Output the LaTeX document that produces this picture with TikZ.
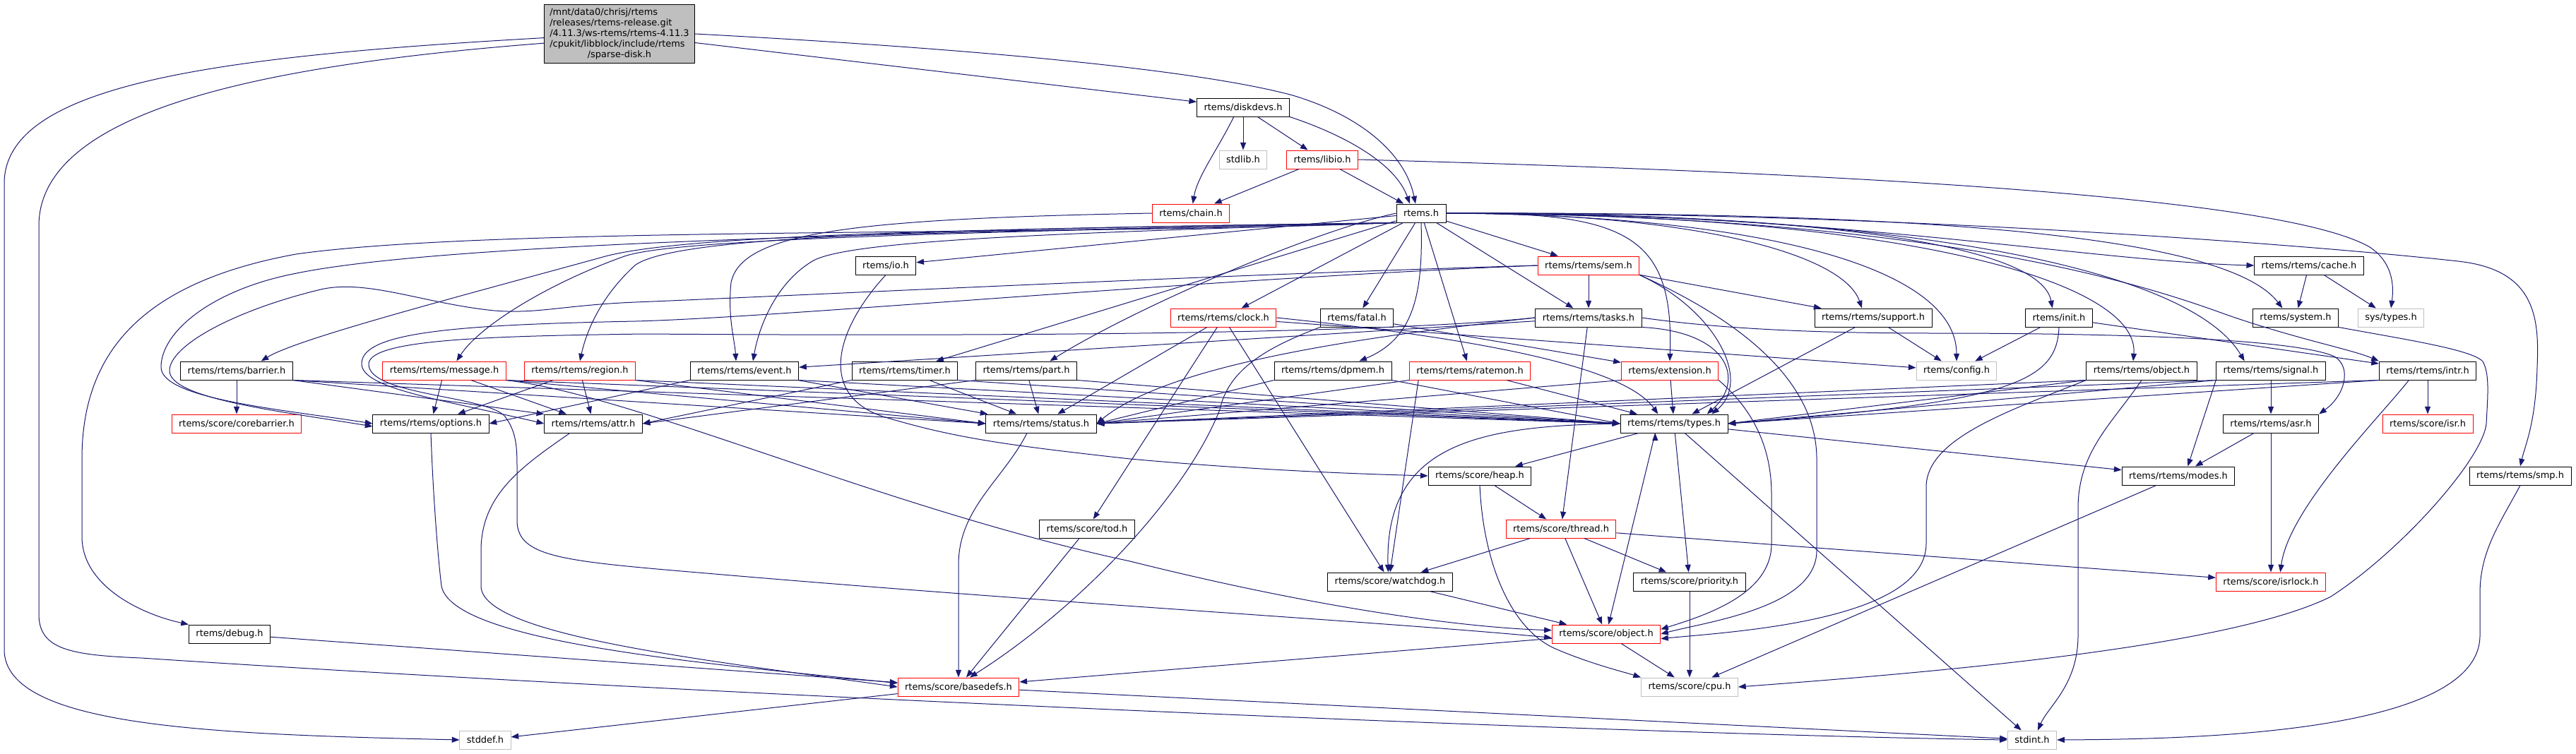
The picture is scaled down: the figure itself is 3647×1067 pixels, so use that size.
\documentclass[tikz,border=0pt]{standalone}
\usepackage{fontspec}
\setmainfont{DejaVu Sans}
\usepackage{tikz}
\usetikzlibrary{arrows.meta}
\definecolor{edgeblue}{HTML}{191970}
\definecolor{sysgray}{HTML}{BFBFBF}
\definecolor{mainfill}{HTML}{BFBFBF}
\definecolor{trunc}{HTML}{FF0000}
\newcommand{\hdrfont}{\fontsize{9.7pt}{11.25pt}\selectfont}

\begin{document}
\begin{tikzpicture}[x=0.75pt, y=-0.75pt]
    \tikzstyle{hdr}=[draw=black, rectangle, line width=0.75pt, minimum height=19.5pt, inner xsep=7.5pt, inner ysep=0pt, font=\hdrfont];
    \tikzstyle{hdrred}=[hdr, draw=trunc];
    \tikzstyle{hdrsys}=[hdr, draw=sysgray];
    \tikzstyle{mainbox}=[draw=black, fill=mainfill, rectangle, line width=0.75pt, inner xsep=6pt, inner ysep=3pt, font=\hdrfont];
    \tikzstyle{dep}=[draw=edgeblue, color=edgeblue, line width=0.75pt, -{Triangle[length=8pt,width=6pt]}];

    \fill[white] (0,0) rectangle (3647,1067);
    \useasboundingbox (0,0) rectangle (3647,1067);

    \node[mainbox] (main) at (877,48) {\begin{tabular}{@{}l@{}}/mnt/data0/chrisj/rtems\\/releases/rtems-release.git\\/4.11.3/ws-rtems/rtems-4.11.3\\/cpukit/libblock/include/rtems\\\multicolumn{1}{@{}c@{}}{/sparse-disk.h}\end{tabular}};
    \node[hdr] (diskdevs) at (1760,152) {rtems/diskdevs.h};
    \node[hdrsys] (stdlib) at (1760,226) {stdlib.h};
    \node[hdrred] (libio) at (1872,226) {rtems/libio.h};
    \node[hdrred] (chain) at (1686,302) {rtems/chain.h};
    \node[hdr] (rtemsh) at (2012,302) {rtems.h};
    \node[hdr] (io) at (1254,376) {rtems/io.h};
    \node[hdrred] (sem) at (2249,376) {rtems/rtems/sem.h};
    \node[hdr] (cache) at (3269,376) {rtems/rtems/cache.h};
    \node[hdrred] (clock) at (1732,450) {rtems/rtems/clock.h};
    \node[hdr] (fatal) at (1921,450) {rtems/fatal.h};
    \node[hdr] (tasks) at (2249,450) {rtems/rtems/tasks.h};
    \node[hdr] (support) at (2652,450) {rtems/rtems/support.h};
    \node[hdr] (init) at (2915,450) {rtems/init.h};
    \node[hdr] (system) at (3250,450) {rtems/system.h};
    \node[hdrsys] (systypes) at (3385,450) {sys/types.h};
    \node[hdr] (barrier) at (335,525) {rtems/rtems/barrier.h};
    \node[hdrred] (message) at (629,525) {rtems/rtems/message.h};
    \node[hdrred] (region) at (821,525) {rtems/rtems/region.h};
    \node[hdr] (event) at (1054,525) {rtems/rtems/event.h};
    \node[hdr] (timer) at (1281,525) {rtems/rtems/timer.h};
    \node[hdr] (part) at (1453,525) {rtems/rtems/part.h};
    \node[hdr] (dpmem) at (1887,525) {rtems/rtems/dpmem.h};
    \node[hdrred] (ratemon) at (2081,525) {rtems/rtems/ratemon.h};
    \node[hdrred] (extension) at (2364,525) {rtems/extension.h};
    \node[hdrsys] (config) at (2770,525) {rtems/config.h};
    \node[hdr] (robject) at (3032,525) {rtems/rtems/object.h};
    \node[hdr] (signal) at (3215,525) {rtems/rtems/signal.h};
    \node[hdr] (intr) at (3437,525) {rtems/rtems/intr.h};
    \node[hdrred] (corebarrier) at (335,600) {rtems/score/corebarrier.h};
    \node[hdr] (options) at (610,600) {rtems/rtems/options.h};
    \node[hdr] (attr) at (840,600) {rtems/rtems/attr.h};
    \node[hdr] (status) at (1474,600) {rtems/rtems/status.h};
    \node[hdr] (types) at (2370,600) {rtems/rtems/types.h};
    \node[hdr] (asr) at (3215,600) {rtems/rtems/asr.h};
    \node[hdrred] (isr) at (3437,600) {rtems/score/isr.h};
    \node[hdr] (heap) at (2095,674) {rtems/score/heap.h};
    \node[hdr] (modes) at (3084,674) {rtems/rtems/modes.h};
    \node[hdr] (smp) at (3568,674) {rtems/rtems/smp.h};
    \node[hdr] (tod) at (1539,749) {rtems/score/tod.h};
    \node[hdrred] (thread) at (2210,749) {rtems/score/thread.h};
    \node[hdr] (watchdog) at (1968,824) {rtems/score/watchdog.h};
    \node[hdr] (priority) at (2392,824) {rtems/score/priority.h};
    \node[hdrred] (isrlock) at (3215,824) {rtems/score/isrlock.h};
    \node[hdr] (debug) at (325,898) {rtems/debug.h};
    \node[hdrred] (sobject) at (2274,898) {rtems/score/object.h};
    \node[hdrred] (basedefs) at (1357,973) {rtems/score/basedefs.h};
    \node[hdrsys] (cpu) at (2392,973) {rtems/score/cpu.h};
    \node[hdrsys] (stddef) at (687,1048) {stddef.h};
    \node[hdrsys] (stdint) at (2877,1048) {stdint.h};

    \path[dep]
    (main) edge (diskdevs)
    (diskdevs) edge (stdlib)
    (diskdevs) edge (libio)
    (libio) edge (chain)
    (libio) edge (rtemsh)
    (rtemsh) edge (io)
    (rtemsh) edge (timer)
    (rtemsh) edge (clock)
    (rtemsh) edge (fatal)
    (rtemsh) edge (ratemon)
    (rtemsh) edge (sem)
    (rtemsh) edge (tasks)
    (sem) edge (tasks)
    (sem) edge (support)
    (cache) edge (system)
    (cache) edge (systypes)
    (clock) edge (config)
    (clock) edge (status)
    (clock) edge (tod)
    (clock) edge (watchdog)
    (fatal) edge (extension)
    (tasks) edge (event)
    (tasks) edge (thread)
    (support) edge (config)
    (support) edge (types)
    (init) edge (config)
    (init) edge (intr)
    (barrier) edge (corebarrier)
    (barrier.south east) edge (attr.north west)
    (barrier.south east) edge (status.west)
    (barrier.south east) edge (types.west)
    (message) edge (options)
    (message) edge (attr)
    (message.south east) edge (status.west)
    (message.south east) edge (types.west)
    (region) edge (options)
    (region) edge (attr)
    (region.south east) edge (status.west)
    (region.south east) edge (types.west)
    (event.south west) edge (options.east)
    (event) edge (status)
    (event.south east) edge (types.west)
    (timer.south west) edge (attr.east)
    (timer) edge (status)
    (timer.south east) edge (types.west)
    (part.south west) edge (attr.east)
    (part) edge (status)
    (part.south east) edge (types.west)
    (dpmem.south west) edge (status.east)
    (dpmem.south east) edge (types.west)
    (ratemon.south west) edge (status.east)
    (ratemon) edge (types)
    ([xshift=10pt]ratemon.south west) edge (watchdog.north)
    (extension) edge (types)
    (extension.south west) edge (status.east)
    (robject.south west) edge (status.east)
    (robject.south west) edge (types.east)
    (signal) edge (asr)
    (signal.south west) edge ([xshift=10pt]modes.north)
    (signal.south west) edge (status.east)
    (signal.south west) edge (types.east)
    (intr) edge (isr)
    (intr.south west) edge (status.east)
    (intr.south west) edge (types.east)
    (types) edge (heap)
    ([xshift=-20pt]types.south) edge (sobject)
    (types) edge (priority)
    (types) edge (stdint)
    (types) edge (modes)
    (asr) edge (modes)
    (asr) edge (isrlock)
    (heap) edge (thread)
    (modes) edge (cpu)
    (tod) edge (basedefs)
    (thread) edge (watchdog)
    (thread) edge (priority)
    (thread) edge (sobject)
    (thread) edge (isrlock)
    (watchdog) edge (sobject)
    (priority) edge (cpu)
    (sobject) edge (cpu)
    (sobject) edge (basedefs)
    (debug) edge (basedefs)
    (basedefs) edge (stddef)
    (basedefs) edge (stdint);

    \draw[dep] (main.east) .. controls (1400,70) and (1700,100) .. (1830,135) .. controls (1930,165) and (1990,220) .. ([xshift=-6pt]rtemsh.north);
    \draw[dep] (main.183) .. controls (300,80) and (6,120) .. (6,260) -- (6,920) .. controls (6,1030) and (300,1040) .. (stddef.west);
    \draw[dep] (main.187) .. controls (400,90) and (55,150) .. (55,320) -- (55,870) .. controls (55,920) and (100,928) .. (200,932) .. controls (1000,985) and (2300,1040) .. (stdint.west);
    \draw[dep] ([xshift=-10pt]diskdevs.south) .. controls (1725,210) and (1695,250) .. ([xshift=2pt]chain.north);
    \draw[dep] (diskdevs.south east) .. controls (1900,190) and (1975,230) .. ([xshift=-12pt]rtemsh.north);
    \draw[dep] (libio.east) .. controls (2800,250) and (3250,290) .. (3355,350) .. controls (3385,370) and (3390,400) .. (systypes.north);
    \draw[dep] (chain.west) .. controls (1200,310) and (1050,330) .. (1035,400) .. controls (1030,450) and (1040,480) .. ([xshift=-9pt]event.north);

    \draw[dep] (rtemsh.south west) .. controls (1500,335) and (700,320) .. (419,360) .. controls (200,400) and (116,500) .. (116,650) -- (116,760) .. controls (116,830) and (200,870) .. (debug.north west);
    \draw[dep] (rtemsh.south west) .. controls (1300,325) and (950,335) .. (850,365) .. controls (650,420) and (420,480) .. ([xshift=26pt]barrier.north);
    \draw[dep] (rtemsh.south west) .. controls (1400,328) and (650,340) .. (420,387) .. controls (300,410) and (228,470) .. (228,520) .. controls (228,565) and (400,580) .. (options.west);
    \draw[dep] (rtemsh.south west) .. controls (1300,330) and (950,340) .. (884,363) .. controls (780,400) and (680,460) .. ([xshift=13pt]message.north);
    \draw[dep] (rtemsh.south west) .. controls (1300,325) and (960,335) .. (900,375) .. controls (850,420) and (830,470) .. (region.north);
    \draw[dep] (rtemsh.south west) .. controls (1500,330) and (1200,340) .. (1150,370) .. controls (1100,400) and (1075,460) .. ([xshift=9pt]event.north);
    \draw[dep] (rtemsh.west) .. controls (1850,330) and (1600,440) .. ([xshift=25pt]part.north);
    \draw[dep] (rtemsh.south) .. controls (2015,420) and (2000,480) .. ([xshift=28pt]dpmem.north);

    \draw[dep] (rtemsh.east) .. controls (2300,300) and (2370,330) .. (extension.north);
    \draw[dep] (rtemsh.east) .. controls (2400,302) and (2610,360) .. ([xshift=-12pt]support.north);
    \draw[dep] (rtemsh.east) .. controls (2500,305) and (2770,380) .. (config.north);
    \draw[dep] (rtemsh.east) .. controls (2600,302) and (2890,350) .. ([xshift=-7pt]init.north);
    \draw[dep] (rtemsh.east) .. controls (2700,302) and (3030,400) .. ([xshift=-9pt]robject.north);
    \draw[dep] (rtemsh.east) .. controls (2700,300) and (3100,380) .. ([xshift=-28pt]signal.north);
    \draw[dep] (rtemsh.east) .. controls (2700,305) and (3000,390) .. (3150,445) .. controls (3250,480) and (3330,495) .. (intr.north west);
    \draw[dep] (rtemsh.east) .. controls (2700,300) and (3150,330) .. ([xshift=-14pt]system.north);
    \draw[dep] (rtemsh.east) .. controls (2600,300) and (2950,370) .. (cache.west);
    \draw[dep] (rtemsh.east) .. controls (2700,300) and (3300,350) .. (3480,370) .. controls (3590,382) and (3595,450) .. (3592,520) .. controls (3590,600) and (3575,630) .. (smp.north);

    \draw[dep] (io.south) .. controls (1180,470) and (1160,560) .. (1250,590) .. controls (1350,620) and (1420,630) .. (1600,650) .. controls (1800,668) and (1950,672) .. (heap.west);
    \draw[dep] (sem.south east) .. controls (2430,440) and (2480,540) .. ([xshift=40pt]types.north);
    \draw[dep] (tasks.south east) .. controls (2450,470) and (2470,540) .. ([xshift=35pt]types.north);
    \draw[dep] (sem.south east) .. controls (2500,470) and (2572,560) .. (2572,650) -- (2572,780) .. controls (2572,860) and (2420,880) .. (sobject.east);
    \draw[dep] (extension.south east) .. controls (2470,570) and (2508,620) .. (2508,700) -- (2508,770) .. controls (2508,840) and (2420,870) .. ([yshift=5pt]sobject.east);
    \draw[dep] (robject.south west) .. controls (2850,580) and (2727,620) .. (2727,690) -- (2727,770) .. controls (2727,880) and (2450,895) .. ([yshift=-5pt]sobject.east);
    \draw[dep] (robject.south) .. controls (2990,600) and (2942,640) .. (2942,720) -- (2942,900) .. controls (2942,970) and (2900,1000) .. ([xshift=6pt]stdint.north);
    \draw[dep] (tasks.west) .. controls (1900,480) and (1650,520) .. (status.east);
    \draw[dep] (tasks.east) .. controls (2450,468) and (2600,472) .. (2740,472) .. controls (3000,472) and (3250,480) .. (3305,505) .. controls (3330,520) and (3320,560) .. (asr.north east);
    \draw[dep] (sem.west) .. controls (1700,390) and (1100,420) .. (900,428) .. controls (800,432) and (760,445) .. (700,440) .. controls (600,430) and (520,395) .. (454,410) .. controls (330,440) and (240,490) .. (240,525) .. controls (240,565) and (400,583) .. ([yshift=-3pt]options.west);
    \draw[dep] (sem.west) .. controls (1700,395) and (1100,450) .. (900,455) .. controls (650,460) and (512,470) .. (512,515) .. controls (512,550) and (620,565) .. (attr.west);
    \draw[dep] (tasks.west) .. controls (1900,478) and (1200,475) .. (912,473) .. controls (700,476) and (525,480) .. (522,515) .. controls (520,560) and (690,560) .. (715,590) .. controls (730,610) and (732,630) .. (732,660) -- (732,740) .. controls (735,790) and (800,795) .. (1000,812) .. controls (1500,855) and (1950,880) .. ([yshift=-4pt]sobject.west);
    \draw[dep] (message.south east) .. controls (900,560) and (1250,720) .. (1600,795) .. controls (1900,870) and (2100,890) .. ([yshift=4pt]sobject.west);
    \draw[dep] (init.south) .. controls (2912,540) and (2850,570) .. (types.east);
    \draw[dep] ([xshift=-20pt]intr.south) .. controls (3370,590) and (3240,720) .. ([xshift=10pt]isrlock.north);
    \draw[dep] (heap.south) .. controls (2100,800) and (2140,890) .. (2200,918) .. controls (2250,940) and (2300,952) .. (cpu.north west);
    \draw[dep] (types.west) .. controls (2100,603) and (1960,625) .. ([xshift=-2pt]watchdog.north);
    \draw[dep] ([xshift=-15pt]status.south) .. controls (1420,680) and (1357,720) .. (1357,800) -- (basedefs.north);
    \draw[dep] (options.south) .. controls (613,700) and (620,790) .. (625,830) .. controls (640,910) and (1000,940) .. ([yshift=4pt]basedefs.west);
    \draw[dep] ([xshift=-25pt]attr.south) .. controls (740,660) and (681,700) .. (681,780) -- (681,830) .. controls (681,900) and (1000,935) .. (basedefs.west);
    \draw[dep] (fatal.south west) .. controls (1800,490) and (1740,520) .. (1727,580) .. controls (1680,700) and (1530,860) .. ([xshift=12pt]basedefs.north);
    \draw[dep] (system.south east) .. controls (3400,480) and (3500,495) .. (3515,512) .. controls (3525,530) and (3522,560) .. (3520,600) .. controls (3515,650) and (3400,780) .. (3300,845) .. controls (3150,920) and (2700,955) .. (cpu.east);
    \draw[dep] (smp.south) .. controls (3540,740) and (3511,780) .. (3511,840) -- (3511,900) .. controls (3511,1040) and (3100,1047) .. (stdint.east);
    \draw[dep] (clock.east) .. controls (2100,480) and (2300,520) .. ([xshift=-17pt]types.north);
  \end{tikzpicture}
\end{document}
